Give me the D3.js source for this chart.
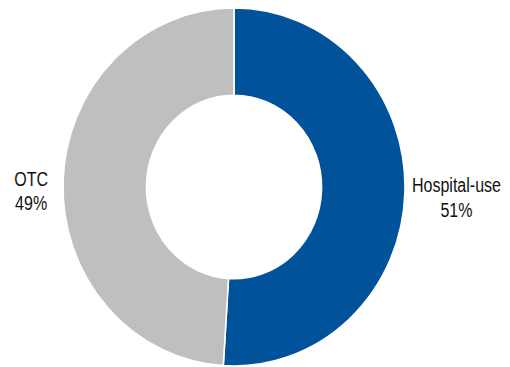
<!DOCTYPE html>
<html>
<head>
<meta charset="utf-8">
<script src="https://cdn.jsdelivr.net/npm/d3@7"></script>
<style>
  body { margin: 0; background: #fff; }
  svg text { font-family: "Liberation Sans", Arial, sans-serif; fill: #111; }
</style>
</head>
<body>
<div id="chart"></div>
<script>
// data
const categories = ["Hospital-use", "OTC"];
const values = [51, 49];
const colors = ["#00529B", "#BFBFBF"];

let width = 510, height = 367;
let cx = 234, cy = 187;
let rx = 171, ry = 179;        // slightly taller than wide, like the reference
let innerRatio = 0.512;

let svg = d3.select("#chart").append("svg")
  .attr("width", width)
  .attr("height", height);

let pie = d3.pie().sort(null).value(d => d.value);
let arcs = pie(categories.map((c, i) => ({ name: c, value: values[i] })));

let arc = d3.arc()
  .innerRadius(rx * innerRatio)
  .outerRadius(rx);

let g = svg.append("g")
  .attr("transform", "translate(" + cx + "," + cy + ") scale(1," + (ry / rx) + ")");

g.selectAll("path")
  .data(arcs)
  .enter().append("path")
  .attr("d", arc)
  .style("fill", (d, i) => colors[i])
  .style("stroke", "#fff")
  .style("stroke-width", 1.6);

// labels outside the ring, lines centred on each other (narrow face)
let pads = [7, 15];
let lineY = [[-1, 24], [5, 29]];
let narrow = 0.8;
arcs.forEach((d, i) => {
  let mid = (d.startAngle + d.endAngle) / 2;
  let side = Math.sin(mid) >= 0 ? 1 : -1;
  let ex = cx + side * (rx + pads[i]);
  let t = svg.append("text").style("font-size", "20px").attr("text-anchor", "middle");
  t.append("tspan").text(d.data.name);
  t.append("tspan").text(d.data.value + "%");
  let w = d3.max(t.selectAll("tspan").nodes(), n => n.getComputedTextLength()) * narrow;
  let x = ex + side * w / 2;
  let y = cy - Math.cos(mid) * ry;
  t.attr("transform", "translate(" + x + "," + y + ") scale(" + narrow + ",1)");
  t.selectAll("tspan")
    .attr("x", 0)
    .attr("y", (_, j) => lineY[i][j]);
});
</script>
</body>
</html>
